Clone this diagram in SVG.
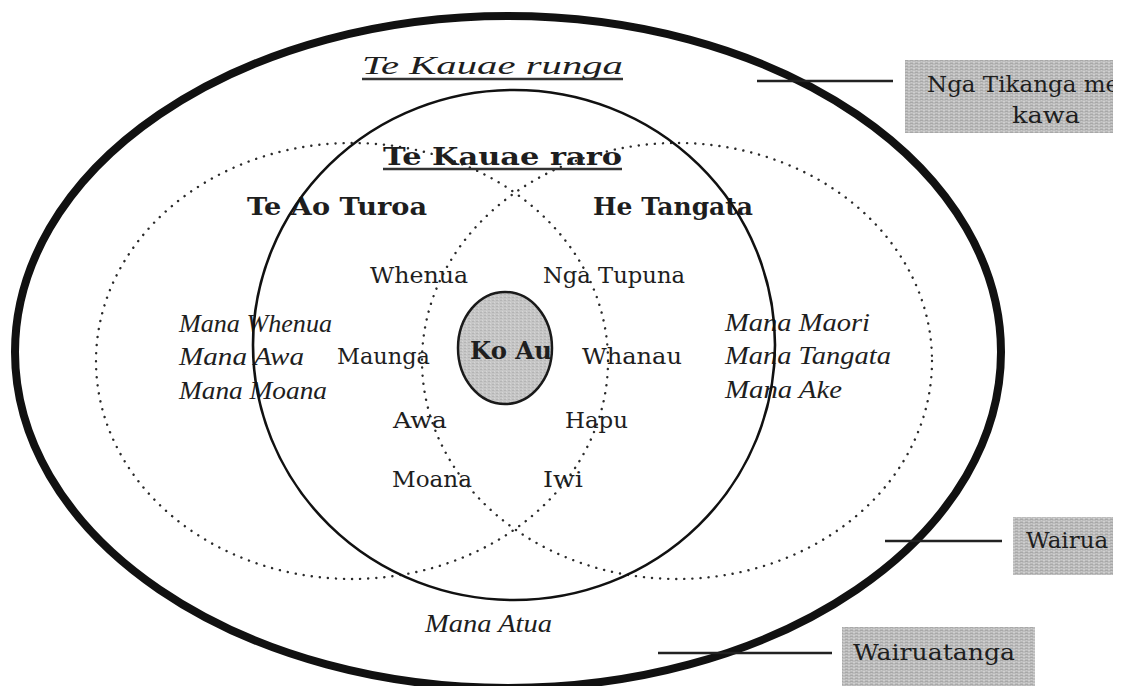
<svg xmlns="http://www.w3.org/2000/svg" width="1123" height="686" viewBox="0 0 1123 686">
<defs>
<pattern id="grain" width="5" height="3" patternUnits="userSpaceOnUse">
<rect width="5" height="3" fill="#bcbcbc"/>
<rect x="0" y="0" width="3" height="1" fill="#a8a8a8"/>
<rect x="3" y="2" width="2" height="1" fill="#d0d0d0"/>
<rect x="1" y="1" width="1" height="1" fill="#cacaca"/>
</pattern>
<pattern id="grain2" width="4" height="3" patternUnits="userSpaceOnUse">
<rect width="4" height="3" fill="#c6c6c6"/>
<rect x="0" y="0" width="2" height="1" fill="#b4b4b4"/>
<rect x="2" y="2" width="1" height="1" fill="#d6d6d6"/>
</pattern>
<clipPath id="clipNga"><rect x="905" y="60" width="208" height="73"/></clipPath>
<clipPath id="clipWairua"><rect x="1013" y="517" width="100" height="58"/></clipPath>
</defs>
<style>
.reg{font-family:"DejaVu Serif","Liberation Serif",serif;font-size:23px;fill:#1e1e1e}
.bold{font-family:"DejaVu Serif","Liberation Serif",serif;font-weight:bold;font-size:25px;fill:#1e1e1e}
.ital{font-family:"Liberation Serif",serif;font-style:italic;font-size:25px;fill:#1e1e1e}
.dot{fill:none;stroke:#2a2a2a;stroke-width:2.4;stroke-dasharray:0.1 8;stroke-linecap:round}
.ring{fill:none;stroke:#111}
.conn{stroke:#222;stroke-width:2.5;fill:none}
.box{fill:url(#grain)}
.ul{stroke:#333;stroke-width:2.5}
</style>

<g id="outer-wairuatanga">
<ellipse class="ring" cx="508" cy="352" rx="493" ry="336" stroke-width="8"/>
<text class="ital" x="362" y="74" font-size="36" textLength="261" lengthAdjust="spacingAndGlyphs">Te Kauae runga</text>
<line class="ul" x1="362" y1="79" x2="623" y2="79"/>
<text class="ital" x="425" y="632" textLength="127" lengthAdjust="spacingAndGlyphs">Mana Atua</text>
</g>

<g id="te-ao-turoa">
<ellipse class="dot" cx="352" cy="361" rx="256" ry="218"/>
<text class="bold" x="247" y="215" font-size="26" textLength="180" lengthAdjust="spacingAndGlyphs">Te Ao Turoa</text>
<text class="ital" x="179" y="332" textLength="153" lengthAdjust="spacingAndGlyphs">Mana Whenua</text>
<text class="ital" x="179" y="365" textLength="125" lengthAdjust="spacingAndGlyphs">Mana Awa</text>
<text class="ital" x="179" y="399" textLength="148" lengthAdjust="spacingAndGlyphs">Mana Moana</text>
<text class="reg" x="370" y="283" textLength="98" lengthAdjust="spacingAndGlyphs">Whenua</text>
<text class="reg" x="337" y="364" textLength="93" lengthAdjust="spacingAndGlyphs">Maunga</text>
<text class="reg" x="393" y="428" textLength="54" lengthAdjust="spacingAndGlyphs">Awa</text>
<text class="reg" x="392" y="487" textLength="80" lengthAdjust="spacingAndGlyphs">Moana</text>
</g>

<g id="he-tangata">
<ellipse class="dot" cx="677" cy="361" rx="255" ry="218"/>
<text class="bold" x="593" y="215" font-size="26" textLength="160" lengthAdjust="spacingAndGlyphs">He Tangata</text>
<text class="ital" x="725" y="331" textLength="145" lengthAdjust="spacingAndGlyphs">Mana Maori</text>
<text class="ital" x="725" y="364" textLength="166" lengthAdjust="spacingAndGlyphs">Mana Tangata</text>
<text class="ital" x="725" y="398" textLength="117" lengthAdjust="spacingAndGlyphs">Mana Ake</text>
<text class="reg" x="543" y="283" textLength="142" lengthAdjust="spacingAndGlyphs">Nga Tupuna</text>
<text class="reg" x="582" y="364" textLength="100" lengthAdjust="spacingAndGlyphs">Whanau</text>
<text class="reg" x="565" y="428" textLength="63" lengthAdjust="spacingAndGlyphs">Hapu</text>
<text class="reg" x="543" y="487" textLength="40" lengthAdjust="spacingAndGlyphs">Iwi</text>
</g>

<g id="te-kauae-raro">
<ellipse class="ring" cx="514" cy="345" rx="261" ry="255" stroke-width="2.6"/>
<text class="bold" x="383" y="165" font-size="29" textLength="239" lengthAdjust="spacingAndGlyphs">Te Kauae raro</text>
<line class="ul" x1="383" y1="169" x2="622" y2="169"/>
</g>

<g id="ko-au">
<ellipse cx="505" cy="348" rx="47" ry="56" fill="url(#grain2)" stroke="#1a1a1a" stroke-width="2.5"/>
<text class="bold" x="470" y="359" font-size="24" textLength="82" lengthAdjust="spacingAndGlyphs">Ko Au</text>
</g>

<g id="connectors">
<line class="conn" x1="757" y1="81" x2="893" y2="81"/>
<line class="conn" x1="885" y1="541" x2="1002" y2="541"/>
<line class="conn" x1="658" y1="653" x2="832" y2="653"/>
</g>

<g id="label-nga-tikanga">
<rect class="box" x="905" y="60" width="208" height="73"/>
<g clip-path="url(#clipNga)">
<text class="reg" x="927" y="92" font-size="22">Nga Tikanga me</text>
</g>
<text class="reg" x="1012" y="123" font-size="22" textLength="68" lengthAdjust="spacingAndGlyphs">kawa</text>
</g>

<g id="label-wairua">
<rect class="box" x="1013" y="517" width="100" height="58"/>
<g clip-path="url(#clipWairua)">
<text class="reg" x="1026" y="548" font-size="23">Wairua</text>
</g>
</g>

<g id="label-wairuatanga">
<rect class="box" x="842" y="627" width="193" height="59"/>
<text class="reg" x="853" y="660" font-size="23" textLength="162" lengthAdjust="spacingAndGlyphs">Wairuatanga</text>
</g>
</svg>
